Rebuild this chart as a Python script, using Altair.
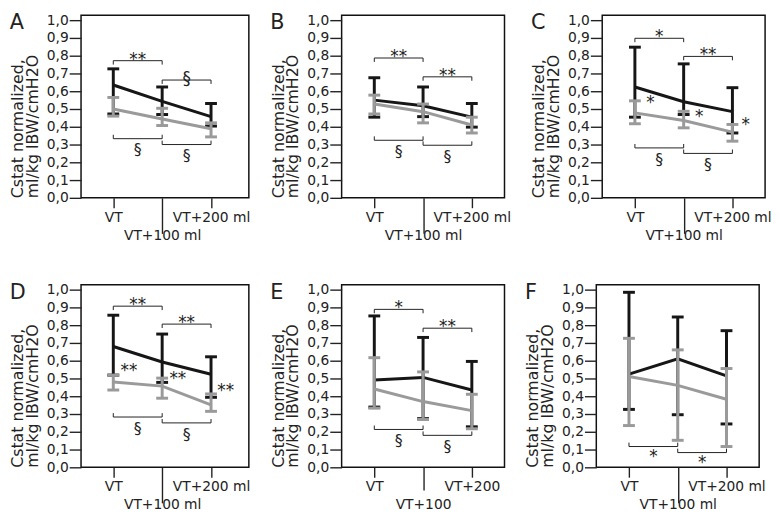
import altair as alt
import pandas as pd

FONT = "DejaVu Sans"
BLACK = "#161616"
GRAY = "#9a9a9a"
INK = "#222222"

STEPS = [0, 1, 2]
X_LABELS = ["VT", "VT+100 ml", "VT+200 ml"]
X_LABELS_E = ["VT", "VT+100", "VT+200"]
Y_TICKS = [0.0, 0.1, 0.2, 0.3, 0.4, 0.5, 0.6, 0.7, 0.8, 0.9, 1.0]
Y_TITLE = ["Cstat normalized,", "ml/kg IBW/cmH2O"]

# ---- Panel A ----
A_BLACK_MEAN = [0.635, 0.543, 0.457]
A_BLACK_HI = [0.726, 0.624, 0.531]
A_BLACK_LO = [0.472, 0.469, 0.404]
A_GRAY_MEAN = [0.500, 0.444, 0.389]
A_GRAY_HI = [0.565, 0.504, 0.422]
A_GRAY_LO = [0.460, 0.407, 0.343]
A_BRACKETS = [(0, 1, 0.772, "**", "above"), (1, 2, 0.663, "§", "above"),
              (0, 1, 0.333, "§", "below"), (1, 2, 0.300, "§", "below")]
A_STARS = []

# ---- Panel B ----
B_BLACK_MEAN = [0.550, 0.518, 0.454]
B_BLACK_HI = [0.676, 0.624, 0.531]
B_BLACK_LO = [0.454, 0.457, 0.398]
B_GRAY_MEAN = [0.528, 0.485, 0.410]
B_GRAY_HI = [0.578, 0.528, 0.454]
B_GRAY_LO = [0.472, 0.422, 0.365]
B_BRACKETS = [(0, 1, 0.787, "**", "above"), (1, 2, 0.681, "**", "above"),
              (0, 1, 0.324, "§", "below"), (1, 2, 0.296, "§", "below")]
B_STARS = []

# ---- Panel C ----
C_BLACK_MEAN = [0.624, 0.541, 0.485]
C_BLACK_HI = [0.848, 0.754, 0.620]
C_BLACK_LO = [0.454, 0.469, 0.365]
C_GRAY_MEAN = [0.478, 0.435, 0.370]
C_GRAY_HI = [0.546, 0.487, 0.413]
C_GRAY_LO = [0.417, 0.394, 0.319]
C_BRACKETS = [(0, 1, 0.898, "*", "above"), (1, 2, 0.796, "**", "above"),
              (0, 1, 0.281, "§", "below"), (1, 2, 0.250, "§", "below")]
C_STARS = [(0.32, 0.555, "*"), (1.32, 0.478, "*"), (2.27, 0.430, "*")]

# ---- Panel D ----
D_BLACK_MEAN = [0.680, 0.593, 0.524]
D_BLACK_HI = [0.856, 0.750, 0.622]
D_BLACK_LO = [0.519, 0.478, 0.394]
D_GRAY_MEAN = [0.480, 0.457, 0.352]
D_GRAY_HI = [0.519, 0.502, 0.413]
D_GRAY_LO = [0.435, 0.389, 0.315]
D_BRACKETS = [(0, 1, 0.907, "**", "above"), (1, 2, 0.806, "**", "above"),
              (0, 1, 0.283, "§", "below"), (1, 2, 0.250, "§", "below")]
D_STARS = [(0.32, 0.565, "**"), (1.32, 0.519, "**"), (2.30, 0.454, "**")]

# ---- Panel E ----
E_BLACK_MEAN = [0.491, 0.506, 0.435]
E_BLACK_HI = [0.852, 0.731, 0.596]
E_BLACK_LO = [0.339, 0.274, 0.228]
E_GRAY_MEAN = [0.441, 0.370, 0.319]
E_GRAY_HI = [0.617, 0.537, 0.411]
E_GRAY_LO = [0.333, 0.269, 0.217]
E_BRACKETS = [(0, 1, 0.889, "*", "above"), (1, 2, 0.783, "**", "above"),
              (0, 1, 0.213, "§", "below"), (1, 2, 0.180, "§", "below")]
E_STARS = []

# ---- Panel F ----
F_BLACK_MEAN = [0.524, 0.611, 0.515]
F_BLACK_HI = [0.985, 0.846, 0.769]
F_BLACK_LO = [0.326, 0.296, 0.244]
F_GRAY_MEAN = [0.511, 0.461, 0.383]
F_GRAY_HI = [0.726, 0.661, 0.556]
F_GRAY_LO = [0.235, 0.152, 0.117]
F_BRACKETS = [(0, 1, 0.117, "*", "below"), (1, 2, 0.083, "*", "below")]
F_STARS = []

HEIGHT = 185
Y_DOMAIN = [0, HEIGHT / 180]
BRACKET_TICK = 0.022


def panel(letter, bm, bh, bl, gm, gh, gl, brackets, stars, xlabels,
          width, xdom, long_tick, long_pad):
    xs = alt.Scale(domain=xdom, nice=False, zero=False)
    ys = alt.Scale(domain=Y_DOMAIN, nice=False, zero=False)
    outer_expr = f"datum.value == 0 ? '{xlabels[0]}' : '{xlabels[2]}'"
    mid_expr = f"'{xlabels[1]}'"
    xaxis_outer = alt.Axis(
        values=[STEPS[0], STEPS[2]], labelExpr=outer_expr, title=None, domain=False,
        grid=False, labelAngle=0, tickSize=10, labelPadding=3, orient="bottom")
    xaxis_mid = alt.Axis(
        values=[STEPS[1]], labelExpr=mid_expr, title=None, domain=False,
        grid=False, labelAngle=0, tickSize=long_tick, labelPadding=long_pad,
        orient="bottom")
    yaxis = alt.Axis(
        values=Y_TICKS, labelExpr="replace(format(datum.value, '.1f'), '.', ',')",
        title=Y_TITLE, domain=False, grid=False, tickSize=12, labelPadding=1,
        titlePadding=6, titleAnchor="start", titleLineHeight=15, orient="left",
    )

    rows = []
    for s, (m, h, l) in (("black", (bm, bh, bl)), ("gray", (gm, gh, gl))):
        for i, st in enumerate(STEPS):
            rows.append(dict(series=s, x=st, mean=m[i], hi=h[i], lo=l[i]))
    df = pd.DataFrame(rows)

    layers = []
    for s, color in (("black", BLACK), ("gray", GRAY)):
        d = alt.Chart(df).transform_filter(alt.datum.series == s)
        if s == "black":
            xa, ya = xaxis_outer, yaxis
        else:
            xa, ya = xaxis_mid, None
        line = d.mark_line(color=color, strokeWidth=3).encode(
            x=alt.X("x:Q", scale=xs, axis=xa),
            y=alt.Y("mean:Q", scale=ys, axis=ya),
        )
        stem = d.mark_rule(color=color, strokeWidth=3).encode(
            x=alt.X("x:Q", scale=xs, axis=None),
            y=alt.Y("lo:Q", scale=ys, axis=None), y2="hi:Q")
        cap_hi = d.mark_tick(color=color, orient="horizontal", size=12, thickness=3,
                             opacity=1).encode(
            x=alt.X("x:Q", scale=xs, axis=None), y=alt.Y("hi:Q", scale=ys, axis=None))
        cap_lo = d.mark_tick(color=color, orient="horizontal", size=12, thickness=3,
                             opacity=1).encode(
            x=alt.X("x:Q", scale=xs, axis=None), y=alt.Y("lo:Q", scale=ys, axis=None))
        layers += [line, stem, cap_lo, cap_hi]

    # significance brackets
    segs = []
    texts = []
    for a, b, lev, lab, side in brackets:
        tip = lev - BRACKET_TICK if side == "above" else lev + BRACKET_TICK
        segs.append(dict(x=a, x2=b, y=lev, y2=lev))
        segs.append(dict(x=a, x2=a, y=lev, y2=tip))
        segs.append(dict(x=b, x2=b, y=lev, y2=tip))
        kind = "above" if side == "above" else ("below_s" if lab == "§" else "below_star")
        texts.append(dict(x=(a + b) / 2, y=lev, t=lab, kind=kind))
    if segs:
        layers.append(alt.Chart(pd.DataFrame(segs)).mark_rule(color=INK, strokeWidth=1).encode(
            x=alt.X("x:Q", scale=xs, axis=None), x2="x2:Q",
            y=alt.Y("y:Q", scale=ys, axis=None), y2="y2:Q"))
    tdf = pd.DataFrame(texts, columns=["x", "y", "t", "kind"])
    for kind, dy, fs in (("above", 4, 17), ("below_s", 17, 16), ("below_star", 16, 17)):
        sub = tdf[tdf["kind"] == kind]
        if len(sub):
            layers.append(alt.Chart(sub).mark_text(
                font=FONT, fontSize=fs, color=INK, baseline="alphabetic", dy=dy).encode(
                x=alt.X("x:Q", scale=xs, axis=None), y=alt.Y("y:Q", scale=ys, axis=None),
                text="t:N"))
    if stars:
        sdf = pd.DataFrame(stars, columns=["x", "y", "t"])
        layers.append(alt.Chart(sdf).mark_text(
            font=FONT, fontSize=17, color=INK, baseline="alphabetic", dy=9).encode(
            x=alt.X("x:Q", scale=xs, axis=None), y=alt.Y("y:Q", scale=ys, axis=None),
            text="t:N"))

    return alt.layer(*layers).resolve_axis(x="independent", y="independent").properties(
        width=width, height=HEIGHT,
        title=alt.TitleParams(letter, anchor="start", frame="bounds", fontSize=21,
                              font=FONT, fontWeight="normal", color=INK,
                              baseline="top", dy=20, offset=0),
    )


DOM1 = [-0.66, 2.774]
DOM2 = [-0.67, 2.67]

pA = panel("A", A_BLACK_MEAN, A_BLACK_HI, A_BLACK_LO, A_GRAY_MEAN, A_GRAY_HI, A_GRAY_LO,
           A_BRACKETS, A_STARS, X_LABELS, 170, DOM1, 36, -5)
pB = panel("B", B_BLACK_MEAN, B_BLACK_HI, B_BLACK_LO, B_GRAY_MEAN, B_GRAY_HI, B_GRAY_LO,
           B_BRACKETS, B_STARS, X_LABELS, 165, DOM2, 36, -5)
pC = panel("C", C_BLACK_MEAN, C_BLACK_HI, C_BLACK_LO, C_GRAY_MEAN, C_GRAY_HI, C_GRAY_LO,
           C_BRACKETS, C_STARS, X_LABELS, 165, DOM2, 36, -5)
pD = panel("D", D_BLACK_MEAN, D_BLACK_HI, D_BLACK_LO, D_GRAY_MEAN, D_GRAY_HI, D_GRAY_LO,
           D_BRACKETS, D_STARS, X_LABELS, 170, DOM1, 36, -5)
pE = panel("E", E_BLACK_MEAN, E_BLACK_HI, E_BLACK_LO, E_GRAY_MEAN, E_GRAY_HI, E_GRAY_LO,
           E_BRACKETS, E_STARS, X_LABELS_E, 165, DOM2, 23, 8)
pF = panel("F", F_BLACK_MEAN, F_BLACK_HI, F_BLACK_LO, F_GRAY_MEAN, F_GRAY_HI, F_GRAY_LO,
           F_BRACKETS, F_STARS, X_LABELS, 165, DOM2, 36, -5)

chart = alt.vconcat(
    alt.hconcat(pA, pB, pC, spacing=18),
    alt.hconcat(pD, pE, pF, spacing=18),
    spacing=38,
).configure(padding=0).configure_view(
    stroke="#111111", strokeWidth=1.5
).configure_axis(
    labelFont=FONT, labelFontSize=14, labelColor=INK, tickColor=INK, tickWidth=1.4,
    titleFont=FONT, titleFontSize=16, titleFontWeight="normal", titleColor=INK,
)

chart.save("out.html", embed_options={"renderer": "svg", "actions": False})
